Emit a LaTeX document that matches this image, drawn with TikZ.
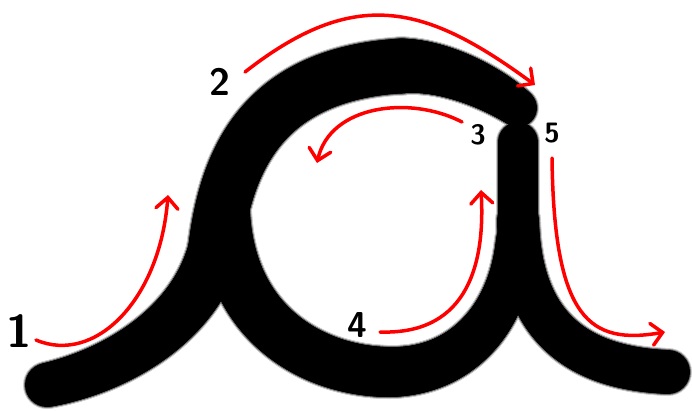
\documentclass[tikz,border=0pt]{standalone}
\usetikzlibrary{arrows.meta}

\tikzset{
  redarrow/.style={draw=red, line width=3.5pt, line cap=round,
    -{Straight Barb[length=11pt,width=22pt,line cap=round]}},
  steplabel/.style={font=\sffamily\bfseries\fontsize{#1}{#1}\selectfont, inner sep=0pt},
  brushdot/.style={circle, draw=none, inner sep=0pt, fill=\inkcolor,
    minimum size={(#1+\inkextra)*1pt}},
}

% pen along a curve: from #1 via #2 and #3 to #4, width #5 to #6
\newcommand\brushseg[6]{%
  \foreach \t in {0,0.01,...,0.99,1}
    \path #1 .. controls #2 and #3 .. #4 node[pos=\t, brushdot={#5+(#6-#5)*\t}] {};
}

% one pass of the letter, #1 = extra width, #2 = colour
\newcommand\inkpass[2]{%
  \def\inkextra{#1}\def\inkcolor{#2}%
  \brushseg{(47,385)}{(110,372)}{(192,330)}{(215,250)}{44}{54}
  \brushseg{(215,250)}{(225,170)}{(255,75)}{(400,66)}{54}{55}
  \brushseg{(400,66)}{(445,64)}{(495,90)}{(518,108)}{55}{38}
  \brushseg{(224,212)}{(230,330)}{(320,372)}{(390,372)}{52}{50}
  \brushseg{(390,372)}{(460,372)}{(510,320)}{(516,240)}{50}{40}
  \draw[line cap=round, line width={(40+#1)*1pt}, #2] (518,142) -- (518,225);
  \brushseg{(518,220)}{(520,320)}{(570,368)}{(668,372)}{42}{44}
}

\begin{document}
\begin{tikzpicture}[x=1pt,y=-1pt]
  \useasboundingbox (0,0) rectangle (692,410);
  \fill[white] (0,0) rectangle (692,410);
  % soft edge of the pen
  \inkpass{4}{black!20}
  \inkpass{2}{black!55}
  \inkpass{0}{black}
  % numbers
  \node[steplabel=46] (n1) at (19,331) {1};
  \node[steplabel=38] (n2) at (220,82) {2};
  \node[steplabel=28] (n3) at (478,135) {3};
  \node[steplabel=36] (n4) at (357,325) {4};
  \node[steplabel=28] (n5) at (552,133) {5};
  % arrows
  \coordinate (s1) at (36,340);  \coordinate (e1) at (168,195);
  \coordinate (s2) at (245,72);  \coordinate (e2) at (535,85);
  \coordinate (s3) at (462,122); \coordinate (e3) at (317,163);
  \coordinate (s4) at (380,332); \coordinate (e4) at (481,190);
  \coordinate (s5) at (552,158); \coordinate (e5) at (665,332);
  \draw[redarrow] (s1) .. controls (95,365) and (160,300) .. (e1);
  \draw[redarrow] (s2) .. controls (355,-14) and (425,4) .. (e2);
  \draw[redarrow] (s3) .. controls (410,95) and (330,105) .. (e3);
  \draw[redarrow] (s4) .. controls (470,335) and (485,260) .. (e4);
  \draw[redarrow] (s5) .. controls (554,320) and (590,345) .. (e5);
\end{tikzpicture}
\end{document}
